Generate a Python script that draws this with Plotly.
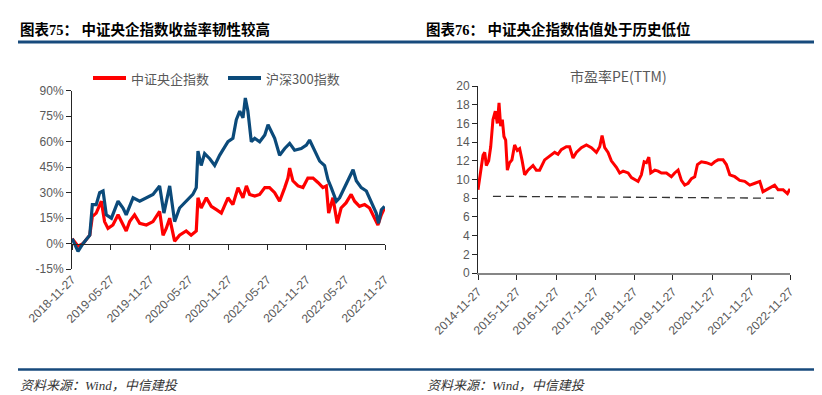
import plotly.graph_objects as go

# ---------------- Data: left chart (cumulative return, %) ----------------
csi_dates = [
    "2018-11-28", "2018-12-25", "2019-01-17", "2019-02-18", "2019-03-02", "2019-03-20",
    "2019-04-13", "2019-04-28", "2019-05-14", "2019-06-06", "2019-06-30", "2019-07-15",
    "2019-08-07", "2019-08-23", "2019-09-15", "2019-10-09", "2019-11-09", "2019-12-10",
    "2020-01-10", "2020-01-26", "2020-02-10", "2020-02-26", "2020-03-20", "2020-04-12",
    "2020-05-13", "2020-06-05", "2020-06-29", "2020-07-07", "2020-07-22", "2020-08-15",
    "2020-09-07", "2020-10-01", "2020-10-24", "2020-11-24", "2020-12-17", "2021-01-10",
    "2021-02-02", "2021-02-18", "2021-03-05", "2021-03-29", "2021-04-21", "2021-05-15",
    "2021-06-06", "2021-06-30", "2021-07-23", "2021-08-16", "2021-08-31", "2021-09-08",
    "2021-09-23", "2021-10-17", "2021-11-09", "2021-12-02", "2021-12-26", "2022-01-18",
    "2022-02-10", "2022-02-26", "2022-03-09", "2022-03-29", "2022-04-18", "2022-05-06",
    "2022-05-29", "2022-06-22", "2022-07-08", "2022-07-31", "2022-08-24", "2022-09-16",
    "2022-10-10", "2022-10-25", "2022-11-10", "2022-11-25",
]
csi_vals = [
    3, -1.5, 0, 5, 16, 18,
    25, 13, 9, 11, 17, 13,
    7.5, 13, 17, 12, 11, 13,
    19, 5, 9, 15, 1.5, 5,
    7.5, 5, 7.5, 27, 21, 27,
    22, 20, 18, 27, 23, 33,
    27, 34, 29, 28, 29, 33,
    33, 30, 25, 33, 38.6, 44.5,
    37, 34, 33, 38.6, 38.6, 36,
    33, 34, 18, 27, 12, 21,
    24, 29, 25, 22, 23, 21,
    15, 11, 17, 21,
]

hs300_dates = [
    "2018-11-28", "2018-12-25", "2019-01-17", "2019-02-18", "2019-03-02", "2019-03-20",
    "2019-04-05", "2019-04-21", "2019-05-06", "2019-05-30", "2019-06-30", "2019-07-23",
    "2019-08-07", "2019-09-08", "2019-10-09", "2019-11-09", "2019-12-10", "2020-01-10",
    "2020-01-30", "2020-02-26", "2020-03-20", "2020-04-12", "2020-05-13", "2020-06-13",
    "2020-06-29", "2020-07-07", "2020-07-22", "2020-08-07", "2020-08-31", "2020-09-23",
    "2020-10-16", "2020-11-24", "2020-12-17", "2021-01-02", "2021-01-18", "2021-02-02",
    "2021-02-13", "2021-02-25", "2021-03-13", "2021-03-29", "2021-04-21", "2021-05-15",
    "2021-05-30", "2021-06-14", "2021-06-30", "2021-07-23", "2021-08-16", "2021-09-08",
    "2021-10-01", "2021-11-01", "2021-11-25", "2021-12-10", "2022-01-02", "2022-01-26",
    "2022-02-18", "2022-03-06", "2022-03-21", "2022-04-14", "2022-04-29", "2022-05-23",
    "2022-06-15", "2022-07-01", "2022-07-16", "2022-08-08", "2022-09-01", "2022-09-24",
    "2022-10-17", "2022-10-28", "2022-11-10", "2022-11-25",
]
hs300_vals = [
    3, -4.5, 0, 5, 23, 23,
    30, 31, 17, 15, 25, 21,
    17, 27, 25, 27, 29, 34,
    18, 34, 13, 21, 25, 29,
    33, 54.5, 46, 53, 50, 46,
    52, 60, 62, 73, 78, 74,
    85.7, 78, 60, 62, 60, 64,
    70, 66, 62, 52, 56, 59,
    55, 56, 58, 61, 55, 48.6,
    46, 37.6, 33, 25, 27, 33,
    38.6, 43.5, 37, 33, 31, 25,
    18, 12, 20, 22,
]

left_tick_dates = ["2018-11-27", "2019-05-27", "2019-11-27", "2020-05-27", "2020-11-27",
                   "2021-05-27", "2021-11-27", "2022-05-27", "2022-11-27"]
left_tick_labels = left_tick_dates
left_y_ticks = [-15, 0, 15, 30, 45, 60, 75, 90]
left_y_labels = ["-15%", "0%", "15%", "30%", "45%", "60%", "75%", "90%"]

# ---------------- Data: right chart (PE TTM) ----------------
pe_dates = [
    "2014-11-27", "2014-12-22", "2015-01-13", "2015-01-29", "2015-02-13", "2015-03-07",
    "2015-03-26", "2015-04-16", "2015-05-08", "2015-05-27", "2015-06-12", "2015-06-27",
    "2015-07-13", "2015-07-28", "2015-08-13", "2015-08-29", "2015-09-19", "2015-10-11",
    "2015-11-05", "2015-11-30", "2015-12-22", "2016-01-13", "2016-02-07", "2016-03-09",
    "2016-04-25", "2016-05-26", "2016-06-26", "2016-08-12", "2016-09-28", "2016-11-14",
    "2016-12-15", "2017-01-15", "2017-03-03", "2017-04-03", "2017-05-05", "2017-06-05",
    "2017-07-22", "2017-09-07", "2017-10-24", "2017-12-10", "2018-01-10", "2018-02-01",
    "2018-02-26", "2018-03-29", "2018-04-29", "2018-06-15", "2018-07-16", "2018-08-17",
    "2018-10-03", "2018-11-03", "2018-12-20", "2019-01-04", "2019-02-04", "2019-03-02",
    "2019-03-24", "2019-04-15", "2019-05-03", "2019-06-10", "2019-07-11", "2019-08-11",
    "2019-09-27", "2019-11-12", "2019-12-13", "2020-01-14", "2020-02-14", "2020-03-16",
    "2020-04-17", "2020-05-18", "2020-06-18", "2020-07-13", "2020-08-19", "2020-10-05",
    "2020-11-21", "2020-12-22", "2021-01-23", "2021-03-10", "2021-04-10", "2021-05-12",
    "2021-06-28", "2021-08-13", "2021-09-29", "2021-11-16", "2022-01-02", "2022-02-17",
    "2022-03-19", "2022-04-20", "2022-05-21", "2022-07-06", "2022-08-08", "2022-09-24",
    "2022-11-03", "2022-11-27",
]
pe_vals = [
    8.9, 11.0, 12.6, 12.9, 11.5, 12.0,
    13.5, 16.4, 17.3, 16.0, 18.2, 15.7,
    16.4, 14.6, 14.2, 11.0, 11.8, 12.1,
    13.7, 13.1, 13.3, 12.1, 10.5, 11.0,
    11.5, 11.0, 11.0, 12.1, 12.5, 12.9,
    12.7, 13.2, 13.5, 13.5, 12.3, 12.9,
    13.4, 13.7, 13.4, 12.9, 13.5, 14.7,
    13.4, 12.9, 12.0, 11.3, 10.7, 10.9,
    10.7, 10.2, 9.9, 9.8, 10.5, 11.9,
    11.8, 12.4, 10.7, 11.0, 10.9, 10.7,
    10.7, 10.3, 10.7, 11.0, 9.9, 9.4,
    9.6, 10.1, 10.3, 11.6, 11.9, 11.8,
    11.6, 11.9, 12.1, 12.1, 11.6, 10.5,
    10.3, 9.9, 9.8, 9.4, 9.6, 9.8,
    8.7, 8.9, 9.1, 9.4, 8.9, 8.9,
    8.5, 9.0,
]
pe_ref_dates = ["2015-04-16", "2022-08-08"]
pe_ref_vals = [8.2, 8.0]

right_tick_dates = ["2014-11-27", "2015-11-27", "2016-11-27", "2017-11-27", "2018-11-27",
                    "2019-11-27", "2020-11-27", "2021-11-27", "2022-11-27"]
right_tick_labels = right_tick_dates
right_y_ticks = [0, 2, 4, 6, 8, 10, 12, 14, 16, 18, 20]

# ---------------- Layout constants ----------------
W, H = 822, 395
RED = "#FF0000"
BLUE = "#0B4A7A"
RULE = "#174A7C"
GREY = "#595959"
CJK = "Noto Sans CJK SC"
TICKFONT = dict(family="Liberation Sans, Noto Sans CJK SC", size=12, color=GREY)


def px(x):
    return x / W


def py(y):
    return 1 - y / H


L_XDOM = [px(64), px(377)]
L_YDOM = [py(261.2), py(82.7)]
R_XDOM = [px(470), px(782)]
R_YDOM = [py(265), py(78)]
L_YRANGE = [-15, 90]
zero_pos = L_YDOM[0] + (0 - L_YRANGE[0]) / (L_YRANGE[1] - L_YRANGE[0]) * (L_YDOM[1] - L_YDOM[0])

fig = go.Figure()

fig.add_trace(go.Scatter(x=csi_dates, y=csi_vals, mode="lines", name="中证央企指数",
                         line=dict(color=RED, width=3.2), xaxis="x", yaxis="y",
                         showlegend=False))
fig.add_trace(go.Scatter(x=hs300_dates, y=hs300_vals, mode="lines", name="沪深300指数",
                         line=dict(color=BLUE, width=3.2), xaxis="x", yaxis="y",
                         showlegend=False))
# helper trace so the zero-line x axis renders
fig.add_trace(go.Scatter(x=[left_tick_dates[0]], y=[0], mode="markers", marker=dict(opacity=0),
                         xaxis="x3", yaxis="y", showlegend=False, hoverinfo="skip"))

fig.add_trace(go.Scatter(x=pe_dates, y=pe_vals, mode="lines", name="市盈率PE(TTM)",
                         line=dict(color=RED, width=3), xaxis="x2", yaxis="y2",
                         showlegend=False))
fig.add_trace(go.Scatter(x=pe_ref_dates, y=pe_ref_vals, mode="lines",
                         line=dict(color="#333333", width=1.3, dash="8px,5px"),
                         xaxis="x2", yaxis="y2", showlegend=False))

L_XRANGE = ["2018-11-27", "2022-11-27"]
R_XRANGE = ["2014-11-27", "2022-11-27"]

fig.update_layout(
    width=W, height=H,
    margin=dict(l=0, r=0, t=0, b=0, autoexpand=False),
    paper_bgcolor="white", plot_bgcolor="white",
    showlegend=False,
    xaxis=dict(domain=L_XDOM, anchor="y", type="date", range=L_XRANGE,
               tickmode="array", tickvals=left_tick_dates, ticktext=left_tick_labels,
               tickangle=-45, ticks="", showline=False, showgrid=False, zeroline=False,
               tickfont=TICKFONT, automargin=False),
    xaxis3=dict(overlaying="x", anchor="free", position=zero_pos, type="date",
                range=L_XRANGE, tickmode="array", tickvals=left_tick_dates,
                showticklabels=False, ticks="outside", ticklen=5, tickcolor="#262626",
                showline=True, linecolor="#262626", linewidth=1, showgrid=False,
                zeroline=False, automargin=False),
    yaxis=dict(domain=L_YDOM, anchor="x", range=L_YRANGE, tickmode="array",
               tickvals=left_y_ticks, ticktext=left_y_labels, ticks="outside",
               ticklen=5, tickcolor="#262626", showline=True, linecolor="#262626",
               linewidth=1, showgrid=False, zeroline=False, tickfont=TICKFONT,
               automargin=False),
    xaxis2=dict(domain=R_XDOM, anchor="y2", type="date", range=R_XRANGE,
                tickmode="array", tickvals=right_tick_dates, ticktext=right_tick_labels,
                tickangle=-45, ticks="outside", ticklen=5, tickcolor="#262626",
                showline=True, linecolor="#868686", linewidth=2, showgrid=False,
                zeroline=False, tickfont=TICKFONT, automargin=False),
    yaxis2=dict(domain=R_YDOM, anchor="x2", range=[0, 20], tickmode="array",
                tickvals=right_y_ticks, ticks="outside", ticklen=5, tickcolor="#262626",
                showline=True, linecolor="#262626", linewidth=1, showgrid=False,
                zeroline=False, tickfont=TICKFONT, automargin=False),
)

shapes = []
annotations = []

# top rule and bottom rule
shapes.append(dict(type="line", xref="paper", yref="paper", x0=px(10), x1=px(813),
                   y0=py(34), y1=py(34), line=dict(color=RULE, width=3)))
shapes.append(dict(type="line", xref="paper", yref="paper", x0=px(10), x1=px(818),
                   y0=py(361.5), y1=py(361.5), line=dict(color=RULE, width=2.5)))

TITLE_FONT = dict(family="Liberation Serif, " + CJK, size=14.5, color="#000000", weight="bold")
annotations.append(dict(text="<b>图表75： 中证央企指数收益率韧性较高</b>", xref="paper", yref="paper",
                        x=px(10), y=py(21.5), xanchor="left", yanchor="middle",
                        showarrow=False, font=TITLE_FONT))
annotations.append(dict(text="<b>图表76： 中证央企指数估值处于历史低位</b>", xref="paper", yref="paper",
                        x=px(416), y=py(21.5), xanchor="left", yanchor="middle",
                        showarrow=False, font=TITLE_FONT))

FOOT_FONT = dict(family="Liberation Serif, " + CJK, size=13, color="#333333", style="italic")
for fx in (10, 417):
    annotations.append(dict(text="资料来源：Wind，中信建投", xref="paper", yref="paper",
                            x=px(fx), y=py(377), xanchor="left", yanchor="middle",
                            showarrow=False, font=FOOT_FONT))

# manual legend for left chart
LEG_FONT = dict(family=CJK, size=13, color=GREY)
for (x0, x1, tx, col, label) in [(85, 118, 121, RED, "中证央企指数"),
                                 (220, 253, 256, BLUE, "沪深300指数")]:
    shapes.append(dict(type="line", xref="paper", yref="paper", x0=px(x0), x1=px(x1),
                       y0=py(70), y1=py(70), line=dict(color=col, width=4)))
    annotations.append(dict(text=label, xref="paper", yref="paper", x=px(tx), y=py(70),
                            xanchor="left", yanchor="middle", showarrow=False, font=LEG_FONT))

# right chart title
annotations.append(dict(text="市盈率PE(TTM)", xref="paper", yref="paper", x=px(610), y=py(68),
                        xanchor="center", yanchor="middle", showarrow=False,
                        font=dict(family=CJK, size=14, color=GREY)))

fig.update_layout(shapes=shapes, annotations=annotations)

fig.write_html("out.html")
